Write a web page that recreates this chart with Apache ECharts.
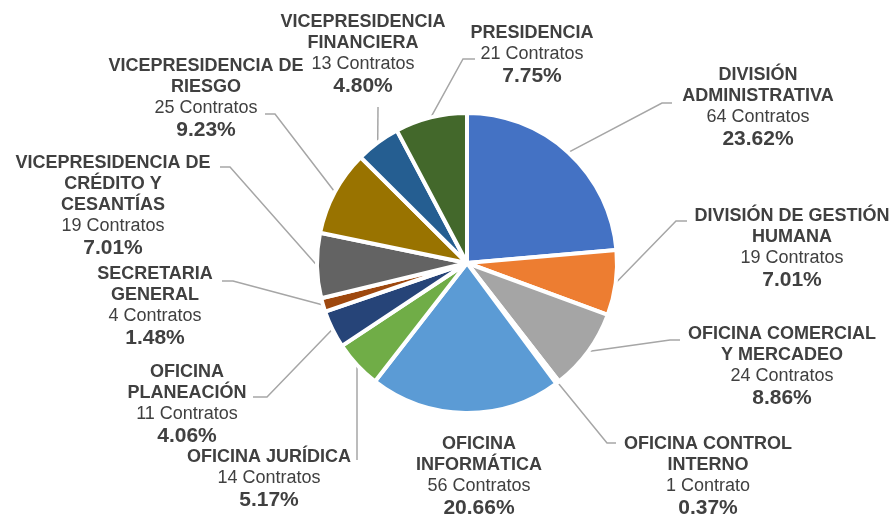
<!DOCTYPE html>
<html>
  <head>
    <meta http-equiv="Content-Type" content="text/html; charset=utf-8" />
    <title>Contratos por dependencia</title>
    <style type="text/css">
    	html,body{margin:0;padding:0;background:#fff;}
    	#chart1{width:893px;height:518px;}
    </style>
	<script type="text/javascript" src="https://cdn.jsdelivr.net/npm/echarts@6/dist/echarts.min.js"></script>
  </head>
  <body>
    <div id="chart1"></div>
  </body>
  <script type="text/javascript">
  	// dependencias, en el orden del pastel (empieza arriba, sentido horario)
  	var categories = [
  		'DIVISIÓN\nADMINISTRATIVA',
  		'DIVISIÓN DE GESTIÓN\nHUMANA',
  		'OFICINA COMERCIAL\nY MERCADEO',
  		'OFICINA CONTROL\nINTERNO',
  		'OFICINA\nINFORMÁTICA',
  		'OFICINA JURÍDICA',
  		'OFICINA\nPLANEACIÓN',
  		'SECRETARIA\nGENERAL',
  		'VICEPRESIDENCIA DE\nCRÉDITO Y\nCESANTÍAS',
  		'VICEPRESIDENCIA DE\nRIESGO',
  		'VICEPRESIDENCIA\nFINANCIERA',
  		'PRESIDENCIA'
  	];
  	var contratos = [64, 19, 24, 1, 56, 14, 11, 4, 19, 25, 13, 21];
  	var colores = ['#4472C4','#ED7D31','#A5A5A5','#FFC000','#5B9BD5','#70AD47',
  		'#264478','#9E480E','#636363','#997300','#255E91','#43682B'];
  	// centro de cada etiqueta (px)
  	var posEtiqueta = [[758,108],[792,249],[782,367],[708,477],[479,477],[269,479],
  		[187,405],[155,307],[113,206],[206,99],[363,55],[532,55]];
  	// linea guia: codo [x,y] y extremo x (null = sin linea)
  	var guia = [[662,103,672],[676,221,687],[670,340,680],[607,443,616],null,[357,460,357],
  		[267,397,253],[233,281,222],[230,167,220],[275,114,265],[378,107,378],[463,59,475]];

  	var total = 0;
  	for (var i = 0; i < contratos.length; i++) total += contratos[i];

  	var datos = [];
  	for (var i = 0; i < categories.length; i++) {
  		datos.push({name: categories[i], value: contratos[i], itemStyle: {color: colores[i]}});
  	}

	var myChart = echarts.init(document.getElementById('chart1'));
	myChart.setOption({
		animation: false,
		textStyle: {fontFamily: '"Liberation Sans", Arial, sans-serif'},
		series: [{
			type: 'pie',
			center: [467, 263],
			radius: 150,
			startAngle: 90,
			clockwise: true,
			data: datos,
			itemStyle: {borderColor: '#fff', borderWidth: 4},
			label: {
				show: true,
				color: '#404040',
				align: 'center',
				formatter: function (p) {
					var c = p.value == 1 ? ' Contrato' : ' Contratos';
					var pct = (p.value / total * 100).toFixed(2) + '%';
					return '{n|' + p.name.split('\n').join('}\n{n|') + '}\n{c|' + p.value + c + '}\n{p|' + pct + '}';
				},
				rich: {
					n: {fontSize: 18, fontWeight: 'bold', color: '#404040', lineHeight: 21, align: 'center'},
					c: {fontSize: 18, color: '#404040', lineHeight: 21, align: 'center'},
					p: {fontSize: 21, fontWeight: 'bold', color: '#404040', lineHeight: 23, align: 'center'}
				}
			},
			labelLine: {show: true, lineStyle: {color: '#A6A6A6', width: 1.5}},
			labelLayout: function (params) {
				var i = params.dataIndex;
				var xy = posEtiqueta[i];
				var out = {x: xy[0], y: xy[1], align: 'center', verticalAlign: 'middle'};
				var g = guia[i];
				var p0 = params.labelLinePoints && params.labelLinePoints[0];
				if (g && p0) {
					out.labelLinePoints = [[p0[0], p0[1]], [g[0], g[1]], [g[2], g[1]]];
				} else if (p0) {
					out.labelLinePoints = [[p0[0], p0[1]], [p0[0], p0[1]], [p0[0], p0[1]]];
				}
				return out;
			}
		}]
	});
	</script>
</html>
